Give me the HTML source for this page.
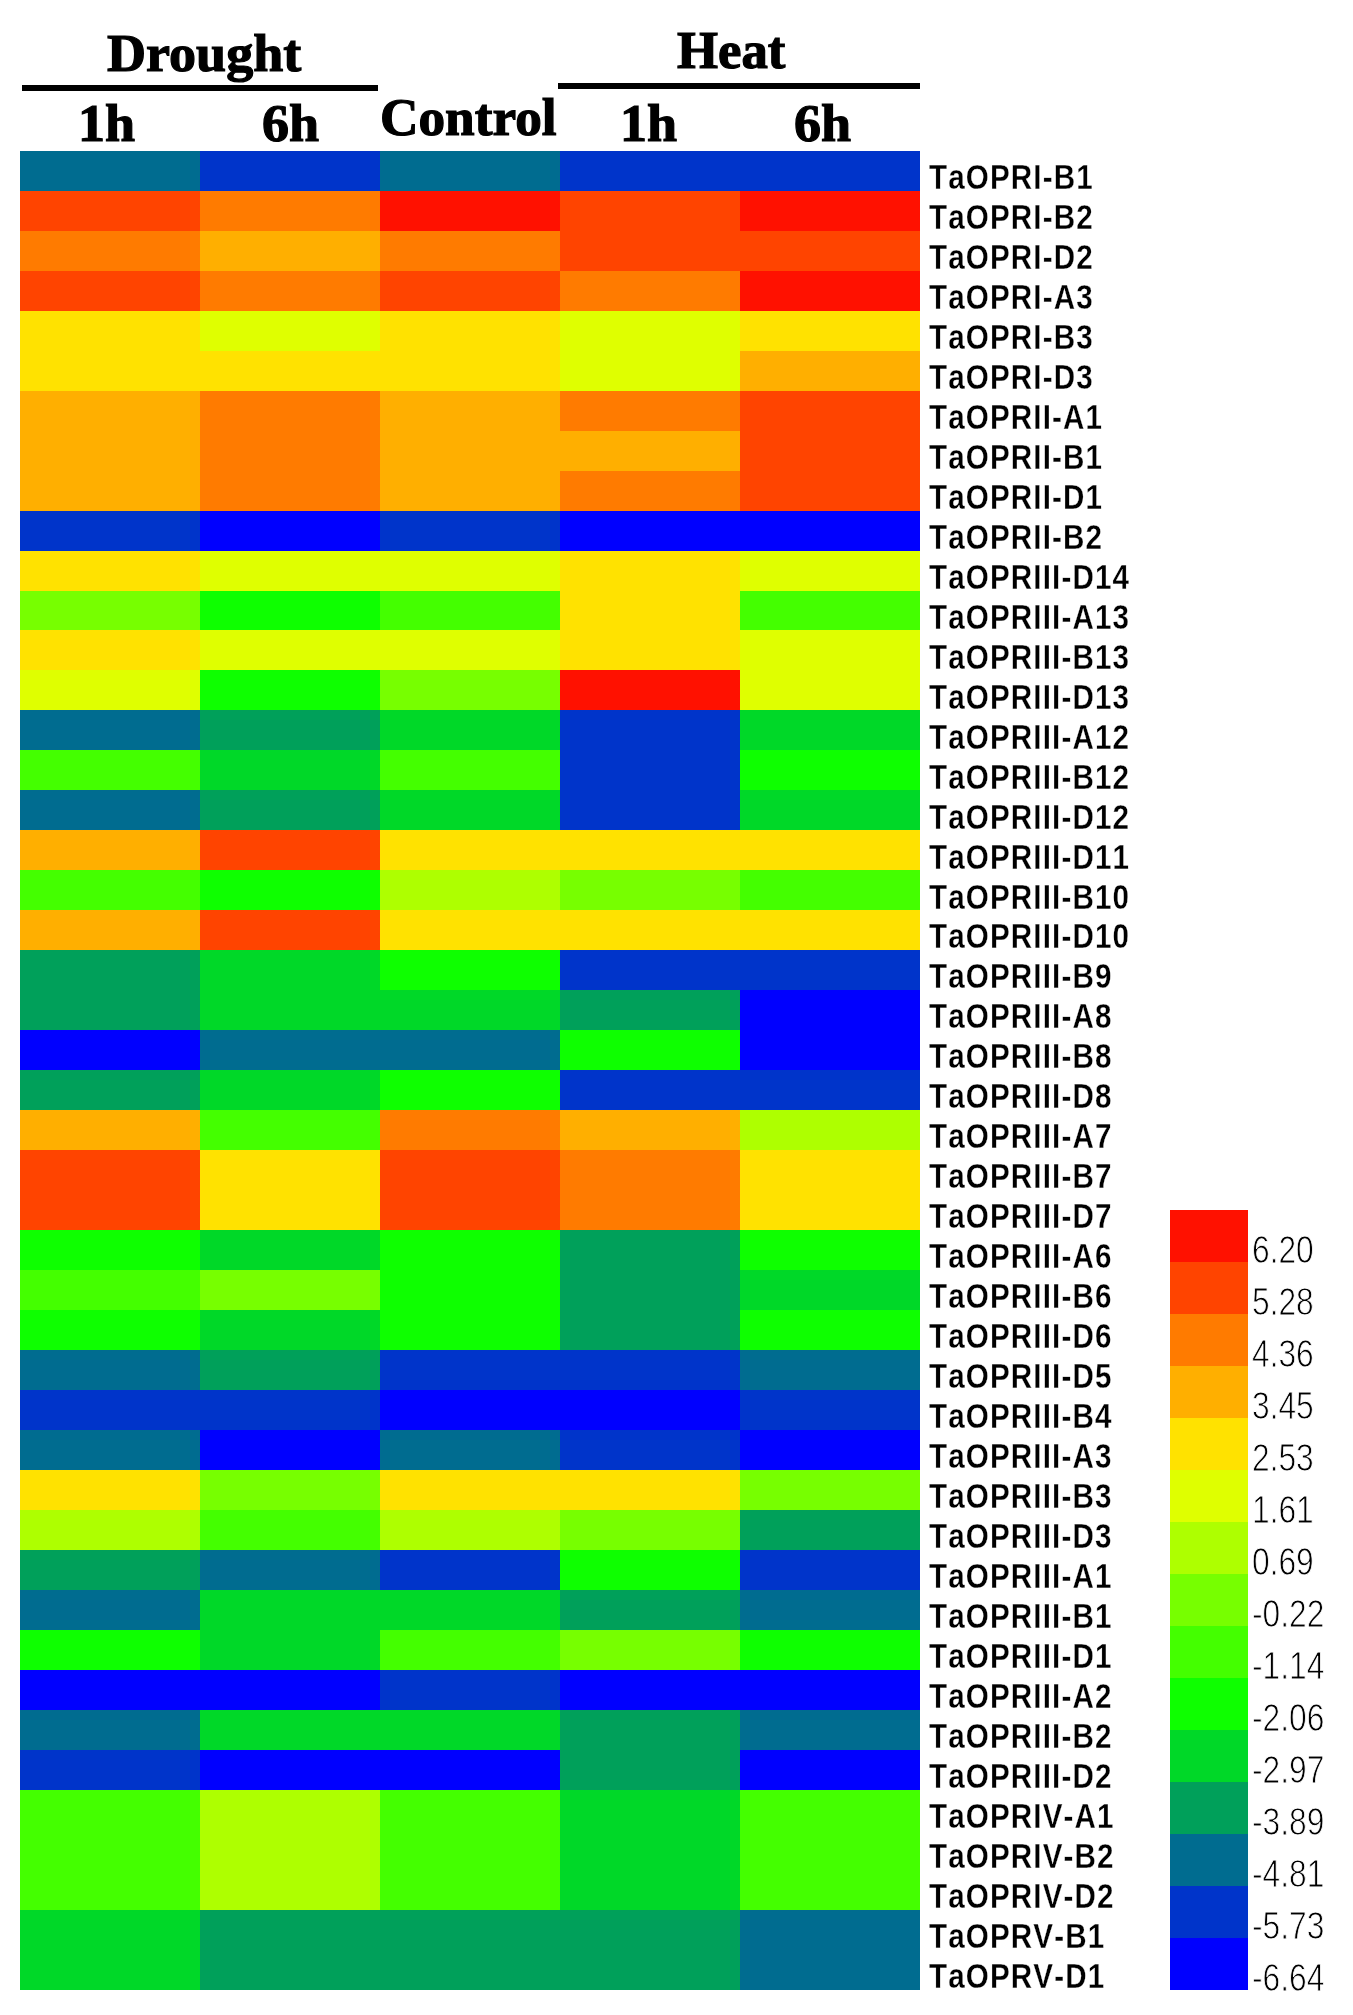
<!DOCTYPE html>
<html><head><meta charset="utf-8"><style>
html,body{margin:0;padding:0;background:#fff;}
body{width:1353px;height:2015px;position:relative;overflow:hidden;}
.c{position:absolute;}
.lb{position:absolute;left:929.2px;font-family:"Liberation Sans",sans-serif;font-weight:bold;font-size:35.5px;line-height:0;color:#000;white-space:nowrap;transform:scaleX(0.834);transform-origin:0 0;letter-spacing:1.35px;font-kerning:none;-webkit-text-stroke:0.3px #fff;}
.txt{filter:grayscale(1);}
.lv{position:absolute;left:1251.5px;font-family:"Liberation Sans",sans-serif;font-size:38px;line-height:0;color:#000;white-space:nowrap;transform:scaleX(0.835);transform-origin:0 0;-webkit-text-stroke:0.9px #fff;}
.h{position:absolute;font-family:"Liberation Serif",serif;font-weight:bold;font-size:53px;line-height:0;color:#000;white-space:nowrap;transform:scaleX(1.02);transform-origin:0 0;-webkit-text-stroke:1.2px #000;}
.ln{position:absolute;background:#000;}
</style></head><body>
<div class="h" style="left:106.5px;top:52.91px;transform:scaleX(1.02)">Drought</div><div class="h" style="left:676.5px;top:50.31px;transform:scaleX(0.995)">Heat</div><div class="h" style="left:78px;top:122.76px;transform:scaleX(1.02)">1h</div><div class="h" style="left:262px;top:122.76px;transform:scaleX(1.02)">6h</div><div class="h" style="left:379.5px;top:116.71px;transform:scaleX(1.005)">Control</div><div class="h" style="left:620px;top:122.81px;transform:scaleX(1.02)">1h</div><div class="h" style="left:794px;top:122.81px;transform:scaleX(1.02)">6h</div>
<div class="ln" style="left:22px;top:85px;width:356px;height:5.7px"></div>
<div class="ln" style="left:558px;top:83px;width:362px;height:5.8px"></div>
<div class="c" style="left:20px;top:150.70px;width:180px;height:40.98px;background:#006C90"></div><div class="c" style="left:20px;top:190.68px;width:180px;height:40.98px;background:#FF4400"></div><div class="c" style="left:20px;top:230.67px;width:180px;height:40.98px;background:#FF7B00"></div><div class="c" style="left:20px;top:270.65px;width:180px;height:40.98px;background:#FF4400"></div><div class="c" style="left:20px;top:310.63px;width:180px;height:80.97px;background:#FFE200"></div><div class="c" style="left:20px;top:390.60px;width:180px;height:120.95px;background:#FFAF00"></div><div class="c" style="left:20px;top:510.54px;width:180px;height:40.98px;background:#0034CA"></div><div class="c" style="left:20px;top:550.53px;width:180px;height:40.98px;background:#FFE200"></div><div class="c" style="left:20px;top:590.51px;width:180px;height:40.98px;background:#77FF00"></div><div class="c" style="left:20px;top:630.49px;width:180px;height:40.98px;background:#FFE200"></div><div class="c" style="left:20px;top:670.47px;width:180px;height:40.98px;background:#DFFF00"></div><div class="c" style="left:20px;top:710.46px;width:180px;height:40.98px;background:#006C90"></div><div class="c" style="left:20px;top:750.44px;width:180px;height:40.98px;background:#44FF00"></div><div class="c" style="left:20px;top:790.42px;width:180px;height:40.98px;background:#006C90"></div><div class="c" style="left:20px;top:830.40px;width:180px;height:40.98px;background:#FFAF00"></div><div class="c" style="left:20px;top:870.39px;width:180px;height:40.98px;background:#44FF00"></div><div class="c" style="left:20px;top:910.37px;width:180px;height:40.98px;background:#FFAF00"></div><div class="c" style="left:20px;top:950.35px;width:180px;height:80.97px;background:#00A05A"></div><div class="c" style="left:20px;top:1030.32px;width:180px;height:40.98px;background:#0000FF"></div><div class="c" style="left:20px;top:1070.30px;width:180px;height:40.98px;background:#00A05A"></div><div class="c" style="left:20px;top:1110.28px;width:180px;height:40.98px;background:#FFAF00"></div><div class="c" style="left:20px;top:1150.27px;width:180px;height:80.97px;background:#FF4400"></div><div class="c" style="left:20px;top:1230.23px;width:180px;height:40.98px;background:#0EFF00"></div><div class="c" style="left:20px;top:1270.21px;width:180px;height:40.98px;background:#44FF00"></div><div class="c" style="left:20px;top:1310.20px;width:180px;height:40.98px;background:#0EFF00"></div><div class="c" style="left:20px;top:1350.18px;width:180px;height:40.98px;background:#006C90"></div><div class="c" style="left:20px;top:1390.16px;width:180px;height:40.98px;background:#0034CA"></div><div class="c" style="left:20px;top:1430.14px;width:180px;height:40.98px;background:#006C90"></div><div class="c" style="left:20px;top:1470.13px;width:180px;height:40.98px;background:#FFE200"></div><div class="c" style="left:20px;top:1510.11px;width:180px;height:40.98px;background:#AEFF00"></div><div class="c" style="left:20px;top:1550.09px;width:180px;height:40.98px;background:#00A05A"></div><div class="c" style="left:20px;top:1590.07px;width:180px;height:40.98px;background:#006C90"></div><div class="c" style="left:20px;top:1630.06px;width:180px;height:40.98px;background:#0EFF00"></div><div class="c" style="left:20px;top:1670.04px;width:180px;height:40.98px;background:#0000FF"></div><div class="c" style="left:20px;top:1710.02px;width:180px;height:40.98px;background:#006C90"></div><div class="c" style="left:20px;top:1750.00px;width:180px;height:40.98px;background:#0034CA"></div><div class="c" style="left:20px;top:1789.99px;width:180px;height:120.95px;background:#44FF00"></div><div class="c" style="left:20px;top:1909.93px;width:180px;height:79.97px;background:#00D828"></div><div class="c" style="left:200px;top:150.70px;width:180px;height:40.98px;background:#0034CA"></div><div class="c" style="left:200px;top:190.68px;width:180px;height:40.98px;background:#FF7B00"></div><div class="c" style="left:200px;top:230.67px;width:180px;height:40.98px;background:#FFAF00"></div><div class="c" style="left:200px;top:270.65px;width:180px;height:40.98px;background:#FF7B00"></div><div class="c" style="left:200px;top:310.63px;width:180px;height:40.98px;background:#DFFF00"></div><div class="c" style="left:200px;top:350.61px;width:180px;height:40.98px;background:#FFE200"></div><div class="c" style="left:200px;top:390.60px;width:180px;height:120.95px;background:#FF7B00"></div><div class="c" style="left:200px;top:510.54px;width:180px;height:40.98px;background:#0000FF"></div><div class="c" style="left:200px;top:550.53px;width:180px;height:40.98px;background:#DFFF00"></div><div class="c" style="left:200px;top:590.51px;width:180px;height:40.98px;background:#0EFF00"></div><div class="c" style="left:200px;top:630.49px;width:180px;height:40.98px;background:#DFFF00"></div><div class="c" style="left:200px;top:670.47px;width:180px;height:40.98px;background:#0EFF00"></div><div class="c" style="left:200px;top:710.46px;width:180px;height:40.98px;background:#00A05A"></div><div class="c" style="left:200px;top:750.44px;width:180px;height:40.98px;background:#00D828"></div><div class="c" style="left:200px;top:790.42px;width:180px;height:40.98px;background:#00A05A"></div><div class="c" style="left:200px;top:830.40px;width:180px;height:40.98px;background:#FF4400"></div><div class="c" style="left:200px;top:870.39px;width:180px;height:40.98px;background:#0EFF00"></div><div class="c" style="left:200px;top:910.37px;width:180px;height:40.98px;background:#FF4400"></div><div class="c" style="left:200px;top:950.35px;width:180px;height:80.97px;background:#00D828"></div><div class="c" style="left:200px;top:1030.32px;width:180px;height:40.98px;background:#006C90"></div><div class="c" style="left:200px;top:1070.30px;width:180px;height:40.98px;background:#00D828"></div><div class="c" style="left:200px;top:1110.28px;width:180px;height:40.98px;background:#44FF00"></div><div class="c" style="left:200px;top:1150.27px;width:180px;height:80.97px;background:#FFE200"></div><div class="c" style="left:200px;top:1230.23px;width:180px;height:40.98px;background:#00D828"></div><div class="c" style="left:200px;top:1270.21px;width:180px;height:40.98px;background:#77FF00"></div><div class="c" style="left:200px;top:1310.20px;width:180px;height:40.98px;background:#00D828"></div><div class="c" style="left:200px;top:1350.18px;width:180px;height:40.98px;background:#00A05A"></div><div class="c" style="left:200px;top:1390.16px;width:180px;height:40.98px;background:#0034CA"></div><div class="c" style="left:200px;top:1430.14px;width:180px;height:40.98px;background:#0000FF"></div><div class="c" style="left:200px;top:1470.13px;width:180px;height:40.98px;background:#77FF00"></div><div class="c" style="left:200px;top:1510.11px;width:180px;height:40.98px;background:#44FF00"></div><div class="c" style="left:200px;top:1550.09px;width:180px;height:40.98px;background:#006C90"></div><div class="c" style="left:200px;top:1590.07px;width:180px;height:80.97px;background:#00D828"></div><div class="c" style="left:200px;top:1670.04px;width:180px;height:40.98px;background:#0000FF"></div><div class="c" style="left:200px;top:1710.02px;width:180px;height:40.98px;background:#00D828"></div><div class="c" style="left:200px;top:1750.00px;width:180px;height:40.98px;background:#0000FF"></div><div class="c" style="left:200px;top:1789.99px;width:180px;height:120.95px;background:#AEFF00"></div><div class="c" style="left:200px;top:1909.93px;width:180px;height:79.97px;background:#00A05A"></div><div class="c" style="left:380px;top:150.70px;width:180px;height:40.98px;background:#006C90"></div><div class="c" style="left:380px;top:190.68px;width:180px;height:40.98px;background:#FF1100"></div><div class="c" style="left:380px;top:230.67px;width:180px;height:40.98px;background:#FF7B00"></div><div class="c" style="left:380px;top:270.65px;width:180px;height:40.98px;background:#FF4400"></div><div class="c" style="left:380px;top:310.63px;width:180px;height:80.97px;background:#FFE200"></div><div class="c" style="left:380px;top:390.60px;width:180px;height:120.95px;background:#FFAF00"></div><div class="c" style="left:380px;top:510.54px;width:180px;height:40.98px;background:#0034CA"></div><div class="c" style="left:380px;top:550.53px;width:180px;height:40.98px;background:#DFFF00"></div><div class="c" style="left:380px;top:590.51px;width:180px;height:40.98px;background:#44FF00"></div><div class="c" style="left:380px;top:630.49px;width:180px;height:40.98px;background:#DFFF00"></div><div class="c" style="left:380px;top:670.47px;width:180px;height:40.98px;background:#77FF00"></div><div class="c" style="left:380px;top:710.46px;width:180px;height:40.98px;background:#00D828"></div><div class="c" style="left:380px;top:750.44px;width:180px;height:40.98px;background:#44FF00"></div><div class="c" style="left:380px;top:790.42px;width:180px;height:40.98px;background:#00D828"></div><div class="c" style="left:380px;top:830.40px;width:180px;height:40.98px;background:#FFE200"></div><div class="c" style="left:380px;top:870.39px;width:180px;height:40.98px;background:#AEFF00"></div><div class="c" style="left:380px;top:910.37px;width:180px;height:40.98px;background:#FFE200"></div><div class="c" style="left:380px;top:950.35px;width:180px;height:40.98px;background:#0EFF00"></div><div class="c" style="left:380px;top:990.33px;width:180px;height:40.98px;background:#00D828"></div><div class="c" style="left:380px;top:1030.32px;width:180px;height:40.98px;background:#006C90"></div><div class="c" style="left:380px;top:1070.30px;width:180px;height:40.98px;background:#0EFF00"></div><div class="c" style="left:380px;top:1110.28px;width:180px;height:40.98px;background:#FF7B00"></div><div class="c" style="left:380px;top:1150.27px;width:180px;height:80.97px;background:#FF4400"></div><div class="c" style="left:380px;top:1230.23px;width:180px;height:120.95px;background:#0EFF00"></div><div class="c" style="left:380px;top:1350.18px;width:180px;height:40.98px;background:#0034CA"></div><div class="c" style="left:380px;top:1390.16px;width:180px;height:40.98px;background:#0000FF"></div><div class="c" style="left:380px;top:1430.14px;width:180px;height:40.98px;background:#006C90"></div><div class="c" style="left:380px;top:1470.13px;width:180px;height:40.98px;background:#FFE200"></div><div class="c" style="left:380px;top:1510.11px;width:180px;height:40.98px;background:#AEFF00"></div><div class="c" style="left:380px;top:1550.09px;width:180px;height:40.98px;background:#0034CA"></div><div class="c" style="left:380px;top:1590.07px;width:180px;height:40.98px;background:#00D828"></div><div class="c" style="left:380px;top:1630.06px;width:180px;height:40.98px;background:#44FF00"></div><div class="c" style="left:380px;top:1670.04px;width:180px;height:40.98px;background:#0034CA"></div><div class="c" style="left:380px;top:1710.02px;width:180px;height:40.98px;background:#00D828"></div><div class="c" style="left:380px;top:1750.00px;width:180px;height:40.98px;background:#0000FF"></div><div class="c" style="left:380px;top:1789.99px;width:180px;height:120.95px;background:#44FF00"></div><div class="c" style="left:380px;top:1909.93px;width:180px;height:79.97px;background:#00A05A"></div><div class="c" style="left:560px;top:150.70px;width:180px;height:40.98px;background:#0034CA"></div><div class="c" style="left:560px;top:190.68px;width:180px;height:80.97px;background:#FF4400"></div><div class="c" style="left:560px;top:270.65px;width:180px;height:40.98px;background:#FF7B00"></div><div class="c" style="left:560px;top:310.63px;width:180px;height:80.97px;background:#DFFF00"></div><div class="c" style="left:560px;top:390.60px;width:180px;height:40.98px;background:#FF7B00"></div><div class="c" style="left:560px;top:430.58px;width:180px;height:40.98px;background:#FFAF00"></div><div class="c" style="left:560px;top:470.56px;width:180px;height:40.98px;background:#FF7B00"></div><div class="c" style="left:560px;top:510.54px;width:180px;height:40.98px;background:#0000FF"></div><div class="c" style="left:560px;top:550.53px;width:180px;height:120.95px;background:#FFE200"></div><div class="c" style="left:560px;top:670.47px;width:180px;height:40.98px;background:#FF1100"></div><div class="c" style="left:560px;top:710.46px;width:180px;height:120.95px;background:#0034CA"></div><div class="c" style="left:560px;top:830.40px;width:180px;height:40.98px;background:#FFE200"></div><div class="c" style="left:560px;top:870.39px;width:180px;height:40.98px;background:#77FF00"></div><div class="c" style="left:560px;top:910.37px;width:180px;height:40.98px;background:#FFE200"></div><div class="c" style="left:560px;top:950.35px;width:180px;height:40.98px;background:#0034CA"></div><div class="c" style="left:560px;top:990.33px;width:180px;height:40.98px;background:#00A05A"></div><div class="c" style="left:560px;top:1030.32px;width:180px;height:40.98px;background:#0EFF00"></div><div class="c" style="left:560px;top:1070.30px;width:180px;height:40.98px;background:#0034CA"></div><div class="c" style="left:560px;top:1110.28px;width:180px;height:40.98px;background:#FFAF00"></div><div class="c" style="left:560px;top:1150.27px;width:180px;height:80.97px;background:#FF7B00"></div><div class="c" style="left:560px;top:1230.23px;width:180px;height:120.95px;background:#00A05A"></div><div class="c" style="left:560px;top:1350.18px;width:180px;height:40.98px;background:#0034CA"></div><div class="c" style="left:560px;top:1390.16px;width:180px;height:40.98px;background:#0000FF"></div><div class="c" style="left:560px;top:1430.14px;width:180px;height:40.98px;background:#0034CA"></div><div class="c" style="left:560px;top:1470.13px;width:180px;height:40.98px;background:#FFE200"></div><div class="c" style="left:560px;top:1510.11px;width:180px;height:40.98px;background:#77FF00"></div><div class="c" style="left:560px;top:1550.09px;width:180px;height:40.98px;background:#0EFF00"></div><div class="c" style="left:560px;top:1590.07px;width:180px;height:40.98px;background:#00A05A"></div><div class="c" style="left:560px;top:1630.06px;width:180px;height:40.98px;background:#77FF00"></div><div class="c" style="left:560px;top:1670.04px;width:180px;height:40.98px;background:#0000FF"></div><div class="c" style="left:560px;top:1710.02px;width:180px;height:80.97px;background:#00A05A"></div><div class="c" style="left:560px;top:1789.99px;width:180px;height:120.95px;background:#00D828"></div><div class="c" style="left:560px;top:1909.93px;width:180px;height:79.97px;background:#00A05A"></div><div class="c" style="left:740px;top:150.70px;width:180px;height:40.98px;background:#0034CA"></div><div class="c" style="left:740px;top:190.68px;width:180px;height:40.98px;background:#FF1100"></div><div class="c" style="left:740px;top:230.67px;width:180px;height:40.98px;background:#FF4400"></div><div class="c" style="left:740px;top:270.65px;width:180px;height:40.98px;background:#FF1100"></div><div class="c" style="left:740px;top:310.63px;width:180px;height:40.98px;background:#FFE200"></div><div class="c" style="left:740px;top:350.61px;width:180px;height:40.98px;background:#FFAF00"></div><div class="c" style="left:740px;top:390.60px;width:180px;height:120.95px;background:#FF4400"></div><div class="c" style="left:740px;top:510.54px;width:180px;height:40.98px;background:#0000FF"></div><div class="c" style="left:740px;top:550.53px;width:180px;height:40.98px;background:#DFFF00"></div><div class="c" style="left:740px;top:590.51px;width:180px;height:40.98px;background:#44FF00"></div><div class="c" style="left:740px;top:630.49px;width:180px;height:80.97px;background:#DFFF00"></div><div class="c" style="left:740px;top:710.46px;width:180px;height:40.98px;background:#00D828"></div><div class="c" style="left:740px;top:750.44px;width:180px;height:40.98px;background:#0EFF00"></div><div class="c" style="left:740px;top:790.42px;width:180px;height:40.98px;background:#00D828"></div><div class="c" style="left:740px;top:830.40px;width:180px;height:40.98px;background:#FFE200"></div><div class="c" style="left:740px;top:870.39px;width:180px;height:40.98px;background:#44FF00"></div><div class="c" style="left:740px;top:910.37px;width:180px;height:40.98px;background:#FFE200"></div><div class="c" style="left:740px;top:950.35px;width:180px;height:40.98px;background:#0034CA"></div><div class="c" style="left:740px;top:990.33px;width:180px;height:80.97px;background:#0000FF"></div><div class="c" style="left:740px;top:1070.30px;width:180px;height:40.98px;background:#0034CA"></div><div class="c" style="left:740px;top:1110.28px;width:180px;height:40.98px;background:#AEFF00"></div><div class="c" style="left:740px;top:1150.27px;width:180px;height:80.97px;background:#FFE200"></div><div class="c" style="left:740px;top:1230.23px;width:180px;height:40.98px;background:#0EFF00"></div><div class="c" style="left:740px;top:1270.21px;width:180px;height:40.98px;background:#00D828"></div><div class="c" style="left:740px;top:1310.20px;width:180px;height:40.98px;background:#0EFF00"></div><div class="c" style="left:740px;top:1350.18px;width:180px;height:40.98px;background:#006C90"></div><div class="c" style="left:740px;top:1390.16px;width:180px;height:40.98px;background:#0034CA"></div><div class="c" style="left:740px;top:1430.14px;width:180px;height:40.98px;background:#0000FF"></div><div class="c" style="left:740px;top:1470.13px;width:180px;height:40.98px;background:#77FF00"></div><div class="c" style="left:740px;top:1510.11px;width:180px;height:40.98px;background:#00A05A"></div><div class="c" style="left:740px;top:1550.09px;width:180px;height:40.98px;background:#0034CA"></div><div class="c" style="left:740px;top:1590.07px;width:180px;height:40.98px;background:#006C90"></div><div class="c" style="left:740px;top:1630.06px;width:180px;height:40.98px;background:#0EFF00"></div><div class="c" style="left:740px;top:1670.04px;width:180px;height:40.98px;background:#0000FF"></div><div class="c" style="left:740px;top:1710.02px;width:180px;height:40.98px;background:#006C90"></div><div class="c" style="left:740px;top:1750.00px;width:180px;height:40.98px;background:#0000FF"></div><div class="c" style="left:740px;top:1789.99px;width:180px;height:120.95px;background:#44FF00"></div><div class="c" style="left:740px;top:1909.93px;width:180px;height:79.97px;background:#006C90"></div>
<div class="txt"><div class="lb" style="top:176.82px">TaOPRI-B1</div><div class="lb" style="top:216.81px">TaOPRI-B2</div><div class="lb" style="top:256.79px">TaOPRI-D2</div><div class="lb" style="top:296.77px">TaOPRI-A3</div><div class="lb" style="top:336.76px">TaOPRI-B3</div><div class="lb" style="top:376.74px">TaOPRI-D3</div><div class="lb" style="top:416.72px">TaOPRII-A1</div><div class="lb" style="top:456.70px">TaOPRII-B1</div><div class="lb" style="top:496.69px">TaOPRII-D1</div><div class="lb" style="top:536.67px">TaOPRII-B2</div><div class="lb" style="top:576.65px">TaOPRIII-D14</div><div class="lb" style="top:616.63px">TaOPRIII-A13</div><div class="lb" style="top:656.62px">TaOPRIII-B13</div><div class="lb" style="top:696.60px">TaOPRIII-D13</div><div class="lb" style="top:736.58px">TaOPRIII-A12</div><div class="lb" style="top:776.56px">TaOPRIII-B12</div><div class="lb" style="top:816.55px">TaOPRIII-D12</div><div class="lb" style="top:856.53px">TaOPRIII-D11</div><div class="lb" style="top:896.51px">TaOPRIII-B10</div><div class="lb" style="top:936.49px">TaOPRIII-D10</div><div class="lb" style="top:976.48px">TaOPRIII-B9</div><div class="lb" style="top:1016.46px">TaOPRIII-A8</div><div class="lb" style="top:1056.44px">TaOPRIII-B8</div><div class="lb" style="top:1096.42px">TaOPRIII-D8</div><div class="lb" style="top:1136.41px">TaOPRIII-A7</div><div class="lb" style="top:1176.39px">TaOPRIII-B7</div><div class="lb" style="top:1216.37px">TaOPRIII-D7</div><div class="lb" style="top:1256.36px">TaOPRIII-A6</div><div class="lb" style="top:1296.34px">TaOPRIII-B6</div><div class="lb" style="top:1336.32px">TaOPRIII-D6</div><div class="lb" style="top:1376.30px">TaOPRIII-D5</div><div class="lb" style="top:1416.29px">TaOPRIII-B4</div><div class="lb" style="top:1456.27px">TaOPRIII-A3</div><div class="lb" style="top:1496.25px">TaOPRIII-B3</div><div class="lb" style="top:1536.23px">TaOPRIII-D3</div><div class="lb" style="top:1576.22px">TaOPRIII-A1</div><div class="lb" style="top:1616.20px">TaOPRIII-B1</div><div class="lb" style="top:1656.18px">TaOPRIII-D1</div><div class="lb" style="top:1696.16px">TaOPRIII-A2</div><div class="lb" style="top:1736.15px">TaOPRIII-B2</div><div class="lb" style="top:1776.13px">TaOPRIII-D2</div><div class="lb" style="top:1816.11px">TaOPRIV-A1</div><div class="lb" style="top:1856.09px">TaOPRIV-B2</div><div class="lb" style="top:1896.08px">TaOPRIV-D2</div><div class="lb" style="top:1936.06px">TaOPRV-B1</div><div class="lb" style="top:1976.04px">TaOPRV-D1</div></div>
<div class="c" style="left:1170px;top:1210.30px;width:78px;height:52.97px;background:#FF1100"></div><div class="c" style="left:1170px;top:1262.27px;width:78px;height:52.97px;background:#FF4400"></div><div class="c" style="left:1170px;top:1314.24px;width:78px;height:52.97px;background:#FF7B00"></div><div class="c" style="left:1170px;top:1366.21px;width:78px;height:52.97px;background:#FFAF00"></div><div class="c" style="left:1170px;top:1418.18px;width:78px;height:52.97px;background:#FFE200"></div><div class="c" style="left:1170px;top:1470.15px;width:78px;height:52.97px;background:#DFFF00"></div><div class="c" style="left:1170px;top:1522.12px;width:78px;height:52.97px;background:#AEFF00"></div><div class="c" style="left:1170px;top:1574.09px;width:78px;height:52.97px;background:#77FF00"></div><div class="c" style="left:1170px;top:1626.06px;width:78px;height:52.97px;background:#44FF00"></div><div class="c" style="left:1170px;top:1678.03px;width:78px;height:52.97px;background:#0EFF00"></div><div class="c" style="left:1170px;top:1730.00px;width:78px;height:52.97px;background:#00D828"></div><div class="c" style="left:1170px;top:1781.97px;width:78px;height:52.97px;background:#00A05A"></div><div class="c" style="left:1170px;top:1833.94px;width:78px;height:52.97px;background:#006C90"></div><div class="c" style="left:1170px;top:1885.91px;width:78px;height:52.97px;background:#0034CA"></div><div class="c" style="left:1170px;top:1937.88px;width:78px;height:51.97px;background:#0000FF"></div>
<div class="txt"><div class="lv" style="top:1250.30px">6.20</div><div class="lv" style="top:1302.30px">5.28</div><div class="lv" style="top:1354.30px">4.36</div><div class="lv" style="top:1406.30px">3.45</div><div class="lv" style="top:1458.30px">2.53</div><div class="lv" style="top:1510.30px">1.61</div><div class="lv" style="top:1562.30px">0.69</div><div class="lv" style="top:1614.30px">-0.22</div><div class="lv" style="top:1666.30px">-1.14</div><div class="lv" style="top:1718.30px">-2.06</div><div class="lv" style="top:1770.30px">-2.97</div><div class="lv" style="top:1822.30px">-3.89</div><div class="lv" style="top:1874.30px">-4.81</div><div class="lv" style="top:1926.30px">-5.73</div><div class="lv" style="top:1978.30px">-6.64</div></div>
</body></html>
